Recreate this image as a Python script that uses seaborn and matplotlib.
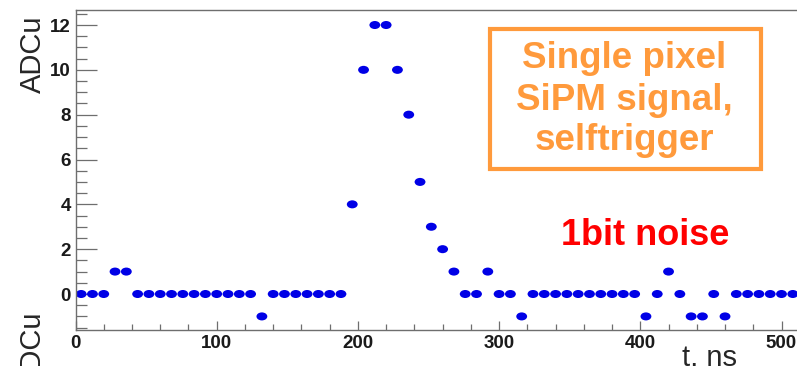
import matplotlib
matplotlib.use("Agg")
import matplotlib.pyplot as plt
import matplotlib.transforms as mtransforms
from matplotlib.path import Path
from matplotlib.patches import Rectangle
from matplotlib.ticker import MultipleLocator
import pandas as pd
import seaborn as sns

# Sample times (ns) and ADC counts of the digitised waveform
t_ns = [4, 12, 20, 28, 36, 44, 52, 60, 68, 76, 84, 92, 100, 108, 116, 124,
        132, 140, 148, 156, 164, 172, 180, 188, 196, 204, 212, 220, 228, 236,
        244, 252, 260, 268, 276, 284, 292, 300, 308, 316, 324, 332, 340, 348,
        356, 364, 372, 380, 388, 396, 404, 412, 420, 428, 436, 444, 452, 460,
        468, 476, 484, 492, 500, 508]
adc = [0, 0, 0, 1, 1, 0, 0, 0, 0, 0, 0, 0, 0, 0, 0, 0,
       -1, 0, 0, 0, 0, 0, 0, 0, 4, 10, 12, 12, 10, 8,
       5, 3, 2, 1, 0, 0, 1, 0, 0, -1, 0, 0, 0, 0,
       0, 0, 0, 0, 0, 0, -1, 0, 1, 0, -1, -1, 0, -1,
       0, 0, 0, 0, 0, 0]

x_ticks = [0, 100, 200, 300, 400, 500]
y_ticks = [0, 2, 4, 6, 8, 10, 12]

box_lines = ["Single pixel", "SiPM signal,", "selftrigger"]
noise_label = "1bit noise"

df = pd.DataFrame({"t": t_ns, "adc": adc})

sns.set_style("ticks")
plt.rcParams["font.family"] = ["Liberation Sans", "DejaVu Sans"]

W, H = 797, 366
fig = plt.figure(figsize=(W / 100, H / 100), dpi=100)
ax = fig.add_axes([75.5 / W, 36 / H, (W - 75.5) / W, 320 / H])

# slightly flattened round marker
ellipse = Path.unit_circle().transformed(mtransforms.Affine2D().scale(1.35, 1.0))
sns.scatterplot(data=df, x="t", y="adc", ax=ax, marker=ellipse, s=61,
                color="#0000E6", edgecolor="none", linewidth=0, legend=False)

ax.set_xlim(0, (W - 75.5) / 1.412)
ax.set_ylim(-1.606, 12.67)

ax.set_xticks(x_ticks)
ax.set_yticks(y_ticks)
ax.xaxis.set_minor_locator(MultipleLocator(20))
ax.yaxis.set_minor_locator(MultipleLocator(0.5))

axis_col = "#6e6e6e"
for side in ["left", "top", "bottom"]:
    ax.spines[side].set_color(axis_col)
    ax.spines[side].set_linewidth(1.0)
ax.spines["right"].set_visible(False)

ax.tick_params(axis="y", which="major", direction="in", length=15, width=0.9,
               color=axis_col, pad=3.5, labelsize=13.5)
ax.tick_params(axis="y", which="minor", direction="in", length=8, width=0.9,
               color=axis_col)
ax.tick_params(axis="x", which="major", direction="in", length=6.5, width=0.9,
               color=axis_col, pad=3.5, labelsize=13.5)
ax.tick_params(axis="x", which="minor", direction="in", length=4, width=0.9,
               color=axis_col)
for lab in ax.get_xticklabels() + ax.get_yticklabels():
    lab.set_fontweight("bold")
    lab.set_color("#1a1a1a")

ax.set_ylabel("ADCu", fontsize=21, va="center", ha="center")
ax.yaxis.set_label_coords((33 - 75.5) / (W - 75.5), (330 - 54.5) / 320)
ax.set_xlabel("t, ns", fontsize=21, va="baseline", ha="center")
ax.xaxis.set_label_coords((710 - 75.5) / (W - 75.5), (330 - 365.5) / 320)

# axis title of the panel below, partly visible at the bottom edge
fig.text(33 / W, 1 - 350.5 / H, "ADCu", fontsize=21, rotation=90,
         ha="center", va="center", rotation_mode="anchor")

# orange annotation box
orange = "#FF9A3C"
fig.add_artist(Rectangle((489.5 / W, 1 - 169 / H), 271 / W, 140.2 / H,
                         transform=fig.transFigure, fill=False,
                         edgecolor=orange, linewidth=3.0))
for line, base in zip(box_lines, [68.5, 110, 150]):
    fig.text(624 / W, 1 - base / H, line, fontsize=26.5, fontweight="bold",
             color=orange, ha="center", va="baseline")

fig.text(645 / W, 1 - 245 / H, noise_label, fontsize=26, fontweight="bold",
         color="#FF0000", ha="center", va="baseline")

fig.savefig("out.png", dpi=100)
